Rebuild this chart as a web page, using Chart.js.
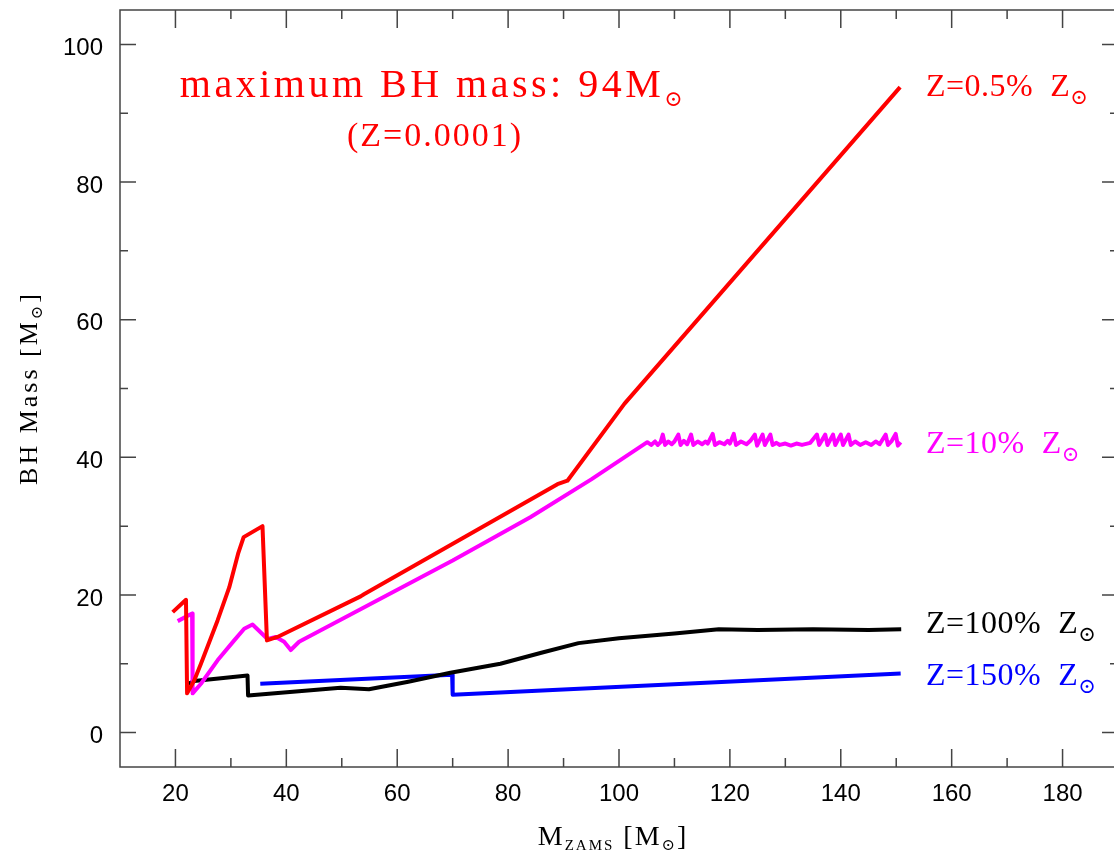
<!DOCTYPE html>
<html>
<head>
<meta charset="utf-8">
<script src="https://cdn.jsdelivr.net/npm/chart.js@4/dist/chart.umd.min.js"></script>
<style>
  html, body { margin: 0; padding: 0; background: #fff; overflow: hidden; }
</style>
</head>
<body>
<canvas id="bhChart" width="1124" height="854"></canvas>
<script>
// axis ticks
var xMajor = [20, 40, 60, 80, 100, 120, 140, 160, 180];
var xMinor = [30, 50, 70, 90, 110, 130, 150, 170];
var yMajor = [0, 20, 40, 60, 80, 100];
var yMinor = [10, 30, 50, 70, 90];

// Z = 0.5% Zsun (red)
var redX = [19.5, 21.9, 22.1, 23.4, 24.6, 27.6, 29.7, 31.3, 32.3, 35.7, 36.5, 38.4, 53.4, 54.0, 88.9, 90.7, 101, 150.7];
var redY = [17.5, 19.3, 5.7, 7.6, 10.0, 16.3, 21.1, 26.0, 28.4, 30.0, 13.4, 13.9, 19.8, 20.1, 36.1, 36.6, 47.8, 93.8];

// Z = 10% Zsun (magenta)
var magX = [20.4, 23.0, 23.1, 24.6, 27.6, 30.6, 32.4, 33.9, 36.6, 38.1, 39.6, 40.8, 42.3, 55, 70, 84, 95, 105.1,
            105.8, 106.5, 107.0, 107.5, 107.9, 108.3, 108.9, 109.5, 110.0, 110.7, 111.1, 111.7, 112.3, 113.0, 113.4,
            114.2, 115.0, 115.6, 116.0, 116.9, 117.3, 118.1, 119.0, 119.6, 120.0, 120.7, 121.1, 122.0, 123.0, 123.7,
            124.5, 124.9, 125.9, 126.3, 127.3, 127.7, 128.4, 129, 130, 131, 132, 133, 134.5, 135.7, 136.1, 137.2,
            137.6, 138.6, 139.0, 140.0, 140.4, 141.4, 141.8, 142.6, 143.5, 144.5, 145.5, 146.3, 147.0, 148.1,
            148.5, 149.2, 149.9, 150.3, 150.8];
var magY = [16.2, 17.3, 5.7, 7.1, 10.5, 13.4, 15.1, 15.7, 13.6, 13.9, 13.2, 12.0, 13.2, 18.6, 25.0, 31.3, 36.8, 42.2,
            41.8, 42.3, 41.8, 42.2, 43.3, 41.8, 42.3, 41.9, 42.3, 43.3, 41.8, 42.4, 41.9, 43.3, 41.8,
            42.3, 41.9, 42.3, 42.0, 43.4, 41.8, 42.2, 41.9, 42.4, 42.0, 43.4, 41.8, 42.3, 41.9, 42.4,
            43.3, 41.7, 43.3, 41.8, 43.3, 41.8, 42.1, 41.8, 42.0, 41.7, 42.0, 41.8, 42.1, 43.3, 41.8, 43.3,
            41.8, 43.3, 41.8, 43.3, 41.8, 43.3, 41.8, 42.3, 41.8, 42.2, 41.8, 42.3, 41.9, 43.3,
            41.8, 42.4, 43.4, 41.7, 42.2];

// Z = 100% Zsun (black)
var blkX = [22.1, 23.4, 33.0, 33.1, 49.8, 54.9, 62, 69.6, 78.6, 86, 92.7, 100, 110, 118, 125, 135, 145, 150.9];
var blkY = [7.0, 7.5, 8.3, 5.4, 6.5, 6.3, 7.4, 8.7, 10.0, 11.6, 13.0, 13.7, 14.4, 15.0, 14.9, 15.0, 14.9, 15.0];

// Z = 150% Zsun (blue)
var bluX = [35.3, 69.9, 70.0, 150.8];
var bluY = [7.1, 8.4, 5.5, 8.6];

function toPoints(xs, ys) {
    return xs.map(function (x, i) { return { x: x, y: ys[i] }; });
}

var serif = '"Liberation Serif", "DejaVu Serif", serif';

// draws text pieces one after another: [text, size, dy]
function drawParts(ctx, parts, x, y, align, spacing, color) {
    ctx.save();
    ctx.fillStyle = color;
    ctx.textBaseline = 'alphabetic';
    ctx.textAlign = 'left';
    ctx.letterSpacing = spacing + 'px';
    var total = 0;
    parts.forEach(function (p) {
        ctx.font = p[1] + 'px ' + serif;
        total += ctx.measureText(p[0]).width;
    });
    var cx = x;
    if (align === 'center') cx = x - total / 2;
    parts.forEach(function (p) {
        ctx.font = p[1] + 'px ' + serif;
        ctx.fillText(p[0], cx, y + p[2]);
        cx += ctx.measureText(p[0]).width;
    });
    ctx.restore();
}

var framePlugin = {
    id: 'frame',
    afterDatasetsDraw: function (chart) {
        var ctx = chart.ctx;
        var a = chart.chartArea;
        var xs = chart.scales.x, ys = chart.scales.y;
        ctx.save();
        ctx.strokeStyle = '#444';
        ctx.lineWidth = 1.5;
        ctx.strokeRect(a.left, a.top, a.right - a.left, a.bottom - a.top);
        ctx.beginPath();
        function xt(list, len) {
            list.forEach(function (v) {
                var px = xs.getPixelForValue(v);
                ctx.moveTo(px, a.bottom); ctx.lineTo(px, a.bottom - len);
                ctx.moveTo(px, a.top); ctx.lineTo(px, a.top + len);
            });
        }
        function yt(list, len) {
            list.forEach(function (v) {
                var py = ys.getPixelForValue(v);
                ctx.moveTo(a.left, py); ctx.lineTo(a.left + len, py);
                ctx.moveTo(a.right, py); ctx.lineTo(a.right - len, py);
            });
        }
        xt(xMajor, 18); xt(xMinor, 9);
        yt(yMajor, 16); yt(yMinor, 8);
        ctx.stroke();
        ctx.restore();

        // annotations
        drawParts(ctx, [['maximum BH mass: 94M', 40, 0], ['\u2299', 22, 9]], 433, 97, 'center', 3.5, '#ff0000');
        drawParts(ctx, [['(Z=0.0001)', 34, 0]], 435, 146, 'center', 2, '#ff0000');

        var lx = 926;
        drawParts(ctx, [['Z=0.5%  Z', 32, 0], ['\u2299', 21, 8]], lx, 96, 'left', 0.5, '#ff0000');
        drawParts(ctx, [['Z=10%  Z', 32, 0], ['\u2299', 21, 8]], lx, 453, 'left', 0.5, '#ff00ff');
        drawParts(ctx, [['Z=100%  Z', 32, 0], ['\u2299', 21, 8]], lx, 633, 'left', 0.5, '#000000');
        drawParts(ctx, [['Z=150%  Z', 32, 0], ['\u2299', 21, 8]], lx, 685, 'left', 0.5, '#0000ff');

        // axis titles
        drawParts(ctx, [['M', 28, 0], ['ZAMS', 15, 5], [' [M', 28, 0], ['\u2299', 16, 5], [']', 28, 0]], 613, 845, 'center', 2, '#000');
        ctx.save();
        ctx.translate(37, 388);
        ctx.rotate(-Math.PI / 2);
        drawParts(ctx, [['BH Mass [M', 26, 0], ['\u2299', 16, 5], [']', 26, 0]], 0, 0, 'center', 3, '#000');
        ctx.restore();
    }
};

function lineSet(label, xs, ys, color, width) {
    return {
        label: label,
        data: toPoints(xs, ys),
        borderColor: color,
        backgroundColor: color,
        borderWidth: width,
        pointRadius: 0,
        tension: 0,
        fill: false,
        borderJoinStyle: 'round'
    };
}

Chart.defaults.font.family = '"Liberation Sans", Arial, sans-serif';
Chart.defaults.color = '#000';

new Chart(document.getElementById('bhChart'), {
    type: 'line',
    data: {
        datasets: [
            lineSet('Z=0.5%', redX, redY, '#ff0000', 4),
            lineSet('Z=10%', magX, magY, '#ff00ff', 4),
            lineSet('Z=100%', blkX, blkY, '#000000', 4),
            lineSet('Z=150%', bluX, bluY, '#0000ff', 4)
        ]
    },
    options: {
        responsive: false,
        animation: false,
        layout: { padding: { left: 0, top: 10, right: 6, bottom: 0 } },
        plugins: {
            legend: { display: false },
            tooltip: { enabled: false }
        },
        scales: {
            x: {
                type: 'linear',
                min: 10,
                max: 190,
                grid: { display: false, drawTicks: false },
                border: { display: false },
                afterBuildTicks: function (axis) {
                    axis.ticks = xMajor.map(function (v) { return { value: v }; });
                },
                afterFit: function (axis) {
                    axis.height = 87;
                    axis.paddingLeft = 0;
                    axis.paddingRight = 0;
                },
                ticks: { font: { size: 24 }, padding: 13, maxRotation: 0, autoSkip: false }
            },
            y: {
                type: 'linear',
                min: -5,
                max: 105,
                grid: { display: false, drawTicks: false },
                border: { display: false },
                afterBuildTicks: function (axis) {
                    axis.ticks = yMajor.map(function (v) { return { value: v }; });
                },
                afterFit: function (axis) {
                    axis.width = 120;
                    axis.paddingTop = 0;
                    axis.paddingBottom = 0;
                },
                ticks: { font: { size: 24 }, padding: 17, labelOffset: 4 }
            }
        }
    },
    plugins: [framePlugin]
});
</script>
</body>
</html>
